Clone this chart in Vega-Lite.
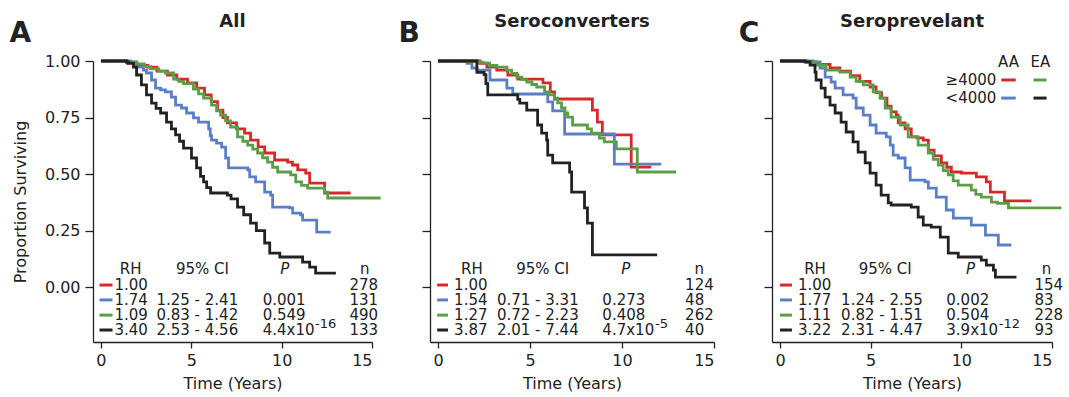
{
"$schema": "https://vega.github.io/schema/vega-lite/v6.json",
"padding": {"left": 9, "top": 13, "right": 2, "bottom": 1},
"bounds": "flush",
"spacing": 58,
"config": {
 "view": {"stroke": null},
 "font": "DejaVu Sans",
 "text": {"font": "DejaVu Sans", "fontSize": 15, "color": "#222222"},
 "title": {"font": "DejaVu Sans", "fontSize": 18, "fontWeight": "bold", "color": "#222222", "anchor": "middle", "frame": "group", "baseline": "alphabetic", "offset": 33, "dy": 44},
 "axis": {"labelFont": "DejaVu Sans", "titleFont": "DejaVu Sans", "labelFontSize": 16, "titleFontSize": 16, "titleFontWeight": "normal", "labelColor": "#222222", "titleColor": "#222222", "domainColor": "#222222", "tickColor": "#222222", "grid": false, "tickSize": 6, "domainWidth": 1.3, "tickWidth": 1.3, "labelPadding": 4},
 "axisY": {"tickSize": 8, "labelPadding": 5}
},
"datasets": {
"km": [
{"p":"A","g":"AA_hi","x":0,"y":1},{"p":"A","g":"AA_hi","x":1.47,"y":0.99},{"p":"A","g":"AA_hi","x":2.0,"y":0.98},{"p":"A","g":"AA_hi","x":2.58,"y":0.973},{"p":"A","g":"AA_hi","x":3.1,"y":0.955},{"p":"A","g":"AA_hi","x":3.68,"y":0.938},{"p":"A","g":"AA_hi","x":4.2,"y":0.92},{"p":"A","g":"AA_hi","x":4.79,"y":0.903},{"p":"A","g":"AA_hi","x":5.3,"y":0.88},{"p":"A","g":"AA_hi","x":5.73,"y":0.85},{"p":"A","g":"AA_hi","x":6.1,"y":0.82},{"p":"A","g":"AA_hi","x":6.45,"y":0.783},{"p":"A","g":"AA_hi","x":6.75,"y":0.75},{"p":"A","g":"AA_hi","x":7.0,"y":0.726},{"p":"A","g":"AA_hi","x":7.5,"y":0.7},{"p":"A","g":"AA_hi","x":7.95,"y":0.681},{"p":"A","g":"AA_hi","x":8.28,"y":0.65},{"p":"A","g":"AA_hi","x":8.7,"y":0.62},{"p":"A","g":"AA_hi","x":9.06,"y":0.593},{"p":"A","g":"AA_hi","x":9.61,"y":0.562},{"p":"A","g":"AA_hi","x":10.33,"y":0.553},{"p":"A","g":"AA_hi","x":10.6,"y":0.54},{"p":"A","g":"AA_hi","x":10.89,"y":0.518},{"p":"A","g":"AA_hi","x":11.33,"y":0.504},{"p":"A","g":"AA_hi","x":11.55,"y":0.46},{"p":"A","g":"AA_hi","x":12.38,"y":0.416},{"p":"A","g":"AA_hi","x":13.82,"y":0.416},
{"p":"A","g":"AA_lo","x":0,"y":1},{"p":"A","g":"AA_lo","x":1.63,"y":0.996},{"p":"A","g":"AA_lo","x":1.97,"y":0.973},{"p":"A","g":"AA_lo","x":2.35,"y":0.96},{"p":"A","g":"AA_lo","x":2.52,"y":0.947},{"p":"A","g":"AA_lo","x":2.8,"y":0.916},{"p":"A","g":"AA_lo","x":3.02,"y":0.88},{"p":"A","g":"AA_lo","x":3.3,"y":0.872},{"p":"A","g":"AA_lo","x":3.57,"y":0.863},{"p":"A","g":"AA_lo","x":3.9,"y":0.84},{"p":"A","g":"AA_lo","x":4.13,"y":0.805},{"p":"A","g":"AA_lo","x":4.46,"y":0.792},{"p":"A","g":"AA_lo","x":4.74,"y":0.77},{"p":"A","g":"AA_lo","x":5.12,"y":0.748},{"p":"A","g":"AA_lo","x":5.4,"y":0.73},{"p":"A","g":"AA_lo","x":5.96,"y":0.7},{"p":"A","g":"AA_lo","x":6.05,"y":0.67},{"p":"A","g":"AA_lo","x":6.12,"y":0.65},{"p":"A","g":"AA_lo","x":6.4,"y":0.637},{"p":"A","g":"AA_lo","x":6.68,"y":0.619},{"p":"A","g":"AA_lo","x":6.9,"y":0.571},{"p":"A","g":"AA_lo","x":7.06,"y":0.527},{"p":"A","g":"AA_lo","x":8.12,"y":0.518},{"p":"A","g":"AA_lo","x":8.23,"y":0.487},{"p":"A","g":"AA_lo","x":8.56,"y":0.465},{"p":"A","g":"AA_lo","x":9.06,"y":0.42},{"p":"A","g":"AA_lo","x":9.39,"y":0.407},{"p":"A","g":"AA_lo","x":9.5,"y":0.354},{"p":"A","g":"AA_lo","x":10.44,"y":0.35},{"p":"A","g":"AA_lo","x":10.61,"y":0.327},{"p":"A","g":"AA_lo","x":11.05,"y":0.319},{"p":"A","g":"AA_lo","x":11.16,"y":0.296},{"p":"A","g":"AA_lo","x":11.94,"y":0.243},{"p":"A","g":"AA_lo","x":12.71,"y":0.243},
{"p":"A","g":"EA_hi","x":0,"y":1},{"p":"A","g":"EA_hi","x":1.42,"y":0.995},{"p":"A","g":"EA_hi","x":1.97,"y":0.987},{"p":"A","g":"EA_hi","x":2.4,"y":0.975},{"p":"A","g":"EA_hi","x":2.74,"y":0.965},{"p":"A","g":"EA_hi","x":3.2,"y":0.955},{"p":"A","g":"EA_hi","x":3.57,"y":0.947},{"p":"A","g":"EA_hi","x":4.02,"y":0.92},{"p":"A","g":"EA_hi","x":4.3,"y":0.91},{"p":"A","g":"EA_hi","x":4.57,"y":0.9},{"p":"A","g":"EA_hi","x":5.12,"y":0.876},{"p":"A","g":"EA_hi","x":5.4,"y":0.855},{"p":"A","g":"EA_hi","x":5.68,"y":0.836},{"p":"A","g":"EA_hi","x":6.12,"y":0.805},{"p":"A","g":"EA_hi","x":6.4,"y":0.78},{"p":"A","g":"EA_hi","x":6.62,"y":0.761},{"p":"A","g":"EA_hi","x":6.9,"y":0.735},{"p":"A","g":"EA_hi","x":7.17,"y":0.708},{"p":"A","g":"EA_hi","x":7.56,"y":0.664},{"p":"A","g":"EA_hi","x":7.85,"y":0.645},{"p":"A","g":"EA_hi","x":8.12,"y":0.628},{"p":"A","g":"EA_hi","x":8.4,"y":0.61},{"p":"A","g":"EA_hi","x":8.67,"y":0.593},{"p":"A","g":"EA_hi","x":8.95,"y":0.572},{"p":"A","g":"EA_hi","x":9.22,"y":0.553},{"p":"A","g":"EA_hi","x":9.5,"y":0.53},{"p":"A","g":"EA_hi","x":9.78,"y":0.509},{"p":"A","g":"EA_hi","x":10.5,"y":0.496},{"p":"A","g":"EA_hi","x":10.78,"y":0.465},{"p":"A","g":"EA_hi","x":11.1,"y":0.45},{"p":"A","g":"EA_hi","x":11.44,"y":0.438},{"p":"A","g":"EA_hi","x":12.38,"y":0.42},{"p":"A","g":"EA_hi","x":12.55,"y":0.394},{"p":"A","g":"EA_hi","x":15.48,"y":0.394},
{"p":"A","g":"EA_lo","x":0,"y":1},{"p":"A","g":"EA_lo","x":1.41,"y":0.995},{"p":"A","g":"EA_lo","x":1.52,"y":0.991},{"p":"A","g":"EA_lo","x":1.8,"y":0.973},{"p":"A","g":"EA_lo","x":1.97,"y":0.938},{"p":"A","g":"EA_lo","x":2.24,"y":0.894},{"p":"A","g":"EA_lo","x":2.52,"y":0.85},{"p":"A","g":"EA_lo","x":2.8,"y":0.814},{"p":"A","g":"EA_lo","x":3.05,"y":0.79},{"p":"A","g":"EA_lo","x":3.3,"y":0.77},{"p":"A","g":"EA_lo","x":3.63,"y":0.73},{"p":"A","g":"EA_lo","x":3.9,"y":0.7},{"p":"A","g":"EA_lo","x":4.13,"y":0.673},{"p":"A","g":"EA_lo","x":4.35,"y":0.645},{"p":"A","g":"EA_lo","x":4.57,"y":0.615},{"p":"A","g":"EA_lo","x":5.01,"y":0.571},{"p":"A","g":"EA_lo","x":5.29,"y":0.527},{"p":"A","g":"EA_lo","x":5.51,"y":0.49},{"p":"A","g":"EA_lo","x":5.68,"y":0.465},{"p":"A","g":"EA_lo","x":5.85,"y":0.44},{"p":"A","g":"EA_lo","x":6.07,"y":0.416},{"p":"A","g":"EA_lo","x":7.0,"y":0.407},{"p":"A","g":"EA_lo","x":7.2,"y":0.39},{"p":"A","g":"EA_lo","x":7.56,"y":0.354},{"p":"A","g":"EA_lo","x":7.9,"y":0.32},{"p":"A","g":"EA_lo","x":8.28,"y":0.283},{"p":"A","g":"EA_lo","x":8.6,"y":0.25},{"p":"A","g":"EA_lo","x":9.06,"y":0.195},{"p":"A","g":"EA_lo","x":9.34,"y":0.15},{"p":"A","g":"EA_lo","x":9.9,"y":0.133},{"p":"A","g":"EA_lo","x":11.16,"y":0.11},{"p":"A","g":"EA_lo","x":11.55,"y":0.088},{"p":"A","g":"EA_lo","x":11.88,"y":0.062},{"p":"A","g":"EA_lo","x":13.0,"y":0.062},
{"p":"B","g":"AA_hi","x":0,"y":1},{"p":"B","g":"AA_hi","x":2.27,"y":0.99},{"p":"B","g":"AA_hi","x":2.65,"y":0.973},{"p":"B","g":"AA_hi","x":3.19,"y":0.96},{"p":"B","g":"AA_hi","x":3.79,"y":0.938},{"p":"B","g":"AA_hi","x":4.33,"y":0.92},{"p":"B","g":"AA_hi","x":5.7,"y":0.903},{"p":"B","g":"AA_hi","x":6.1,"y":0.863},{"p":"B","g":"AA_hi","x":6.33,"y":0.832},{"p":"B","g":"AA_hi","x":8.39,"y":0.783},{"p":"B","g":"AA_hi","x":8.66,"y":0.73},{"p":"B","g":"AA_hi","x":8.93,"y":0.673},{"p":"B","g":"AA_hi","x":10.5,"y":0.531},{"p":"B","g":"AA_hi","x":11.59,"y":0.531},
{"p":"B","g":"AA_lo","x":0,"y":1},{"p":"B","g":"AA_lo","x":1.57,"y":0.99},{"p":"B","g":"AA_lo","x":1.84,"y":0.969},{"p":"B","g":"AA_lo","x":2.11,"y":0.96},{"p":"B","g":"AA_lo","x":2.82,"y":0.916},{"p":"B","g":"AA_lo","x":3.74,"y":0.88},{"p":"B","g":"AA_lo","x":4.06,"y":0.854},{"p":"B","g":"AA_lo","x":5.96,"y":0.819},{"p":"B","g":"AA_lo","x":6.23,"y":0.779},{"p":"B","g":"AA_lo","x":6.88,"y":0.677},{"p":"B","g":"AA_lo","x":9.58,"y":0.544},{"p":"B","g":"AA_lo","x":12.13,"y":0.544},
{"p":"B","g":"EA_hi","x":0,"y":1},{"p":"B","g":"EA_hi","x":2.11,"y":0.995},{"p":"B","g":"EA_hi","x":2.44,"y":0.991},{"p":"B","g":"EA_hi","x":2.8,"y":0.98},{"p":"B","g":"EA_hi","x":3.19,"y":0.973},{"p":"B","g":"EA_hi","x":3.74,"y":0.96},{"p":"B","g":"EA_hi","x":4.0,"y":0.945},{"p":"B","g":"EA_hi","x":4.28,"y":0.929},{"p":"B","g":"EA_hi","x":4.55,"y":0.918},{"p":"B","g":"EA_hi","x":4.82,"y":0.907},{"p":"B","g":"EA_hi","x":5.1,"y":0.896},{"p":"B","g":"EA_hi","x":5.36,"y":0.885},{"p":"B","g":"EA_hi","x":5.79,"y":0.863},{"p":"B","g":"EA_hi","x":6.05,"y":0.85},{"p":"B","g":"EA_hi","x":6.33,"y":0.836},{"p":"B","g":"EA_hi","x":6.5,"y":0.815},{"p":"B","g":"EA_hi","x":6.71,"y":0.792},{"p":"B","g":"EA_hi","x":6.9,"y":0.77},{"p":"B","g":"EA_hi","x":7.04,"y":0.752},{"p":"B","g":"EA_hi","x":7.31,"y":0.717},{"p":"B","g":"EA_hi","x":8.12,"y":0.7},{"p":"B","g":"EA_hi","x":8.34,"y":0.681},{"p":"B","g":"EA_hi","x":8.77,"y":0.659},{"p":"B","g":"EA_hi","x":9.04,"y":0.642},{"p":"B","g":"EA_hi","x":9.69,"y":0.611},{"p":"B","g":"EA_hi","x":10.83,"y":0.509},{"p":"B","g":"EA_hi","x":12.94,"y":0.509},
{"p":"B","g":"EA_lo","x":0,"y":1},{"p":"B","g":"EA_lo","x":2.11,"y":0.95},{"p":"B","g":"EA_lo","x":2.5,"y":0.94},{"p":"B","g":"EA_lo","x":2.6,"y":0.9},{"p":"B","g":"EA_lo","x":2.7,"y":0.85},{"p":"B","g":"EA_lo","x":4.33,"y":0.83},{"p":"B","g":"EA_lo","x":4.44,"y":0.814},{"p":"B","g":"EA_lo","x":4.82,"y":0.783},{"p":"B","g":"EA_lo","x":5.41,"y":0.717},{"p":"B","g":"EA_lo","x":5.63,"y":0.681},{"p":"B","g":"EA_lo","x":5.9,"y":0.65},{"p":"B","g":"EA_lo","x":5.96,"y":0.584},{"p":"B","g":"EA_lo","x":6.23,"y":0.549},{"p":"B","g":"EA_lo","x":7.15,"y":0.509},{"p":"B","g":"EA_lo","x":7.26,"y":0.42},{"p":"B","g":"EA_lo","x":7.96,"y":0.35},{"p":"B","g":"EA_lo","x":8.12,"y":0.283},{"p":"B","g":"EA_lo","x":8.39,"y":0.142},{"p":"B","g":"EA_lo","x":11.91,"y":0.142},
{"p":"C","g":"AA_hi","x":0,"y":1},{"p":"C","g":"AA_hi","x":1.44,"y":0.995},{"p":"C","g":"AA_hi","x":2.0,"y":0.985},{"p":"C","g":"AA_hi","x":2.76,"y":0.969},{"p":"C","g":"AA_hi","x":3.3,"y":0.955},{"p":"C","g":"AA_hi","x":3.9,"y":0.935},{"p":"C","g":"AA_hi","x":4.4,"y":0.91},{"p":"C","g":"AA_hi","x":4.97,"y":0.885},{"p":"C","g":"AA_hi","x":5.3,"y":0.86},{"p":"C","g":"AA_hi","x":5.6,"y":0.836},{"p":"C","g":"AA_hi","x":5.9,"y":0.8},{"p":"C","g":"AA_hi","x":6.13,"y":0.775},{"p":"C","g":"AA_hi","x":6.41,"y":0.761},{"p":"C","g":"AA_hi","x":6.52,"y":0.726},{"p":"C","g":"AA_hi","x":6.9,"y":0.7},{"p":"C","g":"AA_hi","x":7.24,"y":0.664},{"p":"C","g":"AA_hi","x":7.55,"y":0.66},{"p":"C","g":"AA_hi","x":7.9,"y":0.65},{"p":"C","g":"AA_hi","x":8.18,"y":0.606},{"p":"C","g":"AA_hi","x":8.5,"y":0.58},{"p":"C","g":"AA_hi","x":8.9,"y":0.549},{"p":"C","g":"AA_hi","x":9.2,"y":0.53},{"p":"C","g":"AA_hi","x":9.45,"y":0.509},{"p":"C","g":"AA_hi","x":10.0,"y":0.504},{"p":"C","g":"AA_hi","x":10.83,"y":0.487},{"p":"C","g":"AA_hi","x":11.38,"y":0.465},{"p":"C","g":"AA_hi","x":11.6,"y":0.42},{"p":"C","g":"AA_hi","x":12.38,"y":0.381},{"p":"C","g":"AA_hi","x":13.87,"y":0.381},
{"p":"C","g":"AA_lo","x":0,"y":1},{"p":"C","g":"AA_lo","x":1.82,"y":0.996},{"p":"C","g":"AA_lo","x":2.21,"y":0.969},{"p":"C","g":"AA_lo","x":2.49,"y":0.929},{"p":"C","g":"AA_lo","x":2.82,"y":0.907},{"p":"C","g":"AA_lo","x":3.04,"y":0.88},{"p":"C","g":"AA_lo","x":3.48,"y":0.85},{"p":"C","g":"AA_lo","x":4.03,"y":0.836},{"p":"C","g":"AA_lo","x":4.2,"y":0.792},{"p":"C","g":"AA_lo","x":4.59,"y":0.761},{"p":"C","g":"AA_lo","x":4.97,"y":0.717},{"p":"C","g":"AA_lo","x":5.3,"y":0.681},{"p":"C","g":"AA_lo","x":5.86,"y":0.664},{"p":"C","g":"AA_lo","x":6.08,"y":0.628},{"p":"C","g":"AA_lo","x":6.24,"y":0.584},{"p":"C","g":"AA_lo","x":6.52,"y":0.571},{"p":"C","g":"AA_lo","x":6.9,"y":0.527},{"p":"C","g":"AA_lo","x":7.18,"y":0.473},{"p":"C","g":"AA_lo","x":8.0,"y":0.465},{"p":"C","g":"AA_lo","x":8.18,"y":0.438},{"p":"C","g":"AA_lo","x":8.62,"y":0.398},{"p":"C","g":"AA_lo","x":9.17,"y":0.341},{"p":"C","g":"AA_lo","x":9.56,"y":0.305},{"p":"C","g":"AA_lo","x":10.55,"y":0.274},{"p":"C","g":"AA_lo","x":11.33,"y":0.23},{"p":"C","g":"AA_lo","x":12.04,"y":0.186},{"p":"C","g":"AA_lo","x":12.76,"y":0.186},
{"p":"C","g":"EA_hi","x":0,"y":1},{"p":"C","g":"EA_hi","x":1.44,"y":0.995},{"p":"C","g":"EA_hi","x":1.99,"y":0.982},{"p":"C","g":"EA_hi","x":2.54,"y":0.96},{"p":"C","g":"EA_hi","x":3.31,"y":0.951},{"p":"C","g":"EA_hi","x":3.87,"y":0.929},{"p":"C","g":"EA_hi","x":4.2,"y":0.91},{"p":"C","g":"EA_hi","x":4.59,"y":0.894},{"p":"C","g":"EA_hi","x":5.14,"y":0.863},{"p":"C","g":"EA_hi","x":5.52,"y":0.836},{"p":"C","g":"EA_hi","x":5.8,"y":0.792},{"p":"C","g":"EA_hi","x":6.13,"y":0.752},{"p":"C","g":"EA_hi","x":6.63,"y":0.717},{"p":"C","g":"EA_hi","x":7.07,"y":0.664},{"p":"C","g":"EA_hi","x":7.62,"y":0.628},{"p":"C","g":"EA_hi","x":8.18,"y":0.593},{"p":"C","g":"EA_hi","x":8.45,"y":0.565},{"p":"C","g":"EA_hi","x":8.73,"y":0.54},{"p":"C","g":"EA_hi","x":9.0,"y":0.515},{"p":"C","g":"EA_hi","x":9.28,"y":0.496},{"p":"C","g":"EA_hi","x":9.55,"y":0.47},{"p":"C","g":"EA_hi","x":9.83,"y":0.451},{"p":"C","g":"EA_hi","x":10.55,"y":0.429},{"p":"C","g":"EA_hi","x":10.8,"y":0.41},{"p":"C","g":"EA_hi","x":11.1,"y":0.398},{"p":"C","g":"EA_hi","x":11.66,"y":0.376},{"p":"C","g":"EA_hi","x":12.0,"y":0.37},{"p":"C","g":"EA_hi","x":12.6,"y":0.35},{"p":"C","g":"EA_hi","x":15.52,"y":0.35},
{"p":"C","g":"EA_lo","x":0,"y":1},{"p":"C","g":"EA_lo","x":1.38,"y":0.996},{"p":"C","g":"EA_lo","x":1.66,"y":0.982},{"p":"C","g":"EA_lo","x":1.93,"y":0.951},{"p":"C","g":"EA_lo","x":1.99,"y":0.916},{"p":"C","g":"EA_lo","x":2.27,"y":0.88},{"p":"C","g":"EA_lo","x":2.49,"y":0.84},{"p":"C","g":"EA_lo","x":2.76,"y":0.805},{"p":"C","g":"EA_lo","x":3.04,"y":0.77},{"p":"C","g":"EA_lo","x":3.37,"y":0.73},{"p":"C","g":"EA_lo","x":3.65,"y":0.686},{"p":"C","g":"EA_lo","x":4.03,"y":0.642},{"p":"C","g":"EA_lo","x":4.31,"y":0.597},{"p":"C","g":"EA_lo","x":4.7,"y":0.549},{"p":"C","g":"EA_lo","x":4.97,"y":0.504},{"p":"C","g":"EA_lo","x":5.3,"y":0.451},{"p":"C","g":"EA_lo","x":5.58,"y":0.407},{"p":"C","g":"EA_lo","x":5.97,"y":0.372},{"p":"C","g":"EA_lo","x":6.13,"y":0.363},{"p":"C","g":"EA_lo","x":7.24,"y":0.354},{"p":"C","g":"EA_lo","x":7.62,"y":0.31},{"p":"C","g":"EA_lo","x":7.9,"y":0.274},{"p":"C","g":"EA_lo","x":8.34,"y":0.265},{"p":"C","g":"EA_lo","x":8.84,"y":0.221},{"p":"C","g":"EA_lo","x":9.28,"y":0.15},{"p":"C","g":"EA_lo","x":9.83,"y":0.133},{"p":"C","g":"EA_lo","x":11.1,"y":0.119},{"p":"C","g":"EA_lo","x":11.38,"y":0.097},{"p":"C","g":"EA_lo","x":11.77,"y":0.075},{"p":"C","g":"EA_lo","x":11.88,"y":0.044},{"p":"C","g":"EA_lo","x":13.04,"y":0.044}
],
"seg": [
{"p":"A","g":"AA_hi","x":-0.08,"x2":0.64,"y":0.009},{"p":"A","g":"AA_lo","x":-0.08,"x2":0.64,"y":-0.057},{"p":"A","g":"EA_hi","x":-0.08,"x2":0.64,"y":-0.124},{"p":"A","g":"EA_lo","x":-0.08,"x2":0.64,"y":-0.19},
{"p":"B","g":"AA_hi","x":-0.05,"x2":0.54,"y":0.009},{"p":"B","g":"AA_lo","x":-0.05,"x2":0.54,"y":-0.057},{"p":"B","g":"EA_hi","x":-0.05,"x2":0.54,"y":-0.124},{"p":"B","g":"EA_lo","x":-0.05,"x2":0.54,"y":-0.19},
{"p":"C","g":"AA_hi","x":0,"x2":0.66,"y":0.009},{"p":"C","g":"AA_lo","x":0,"x2":0.66,"y":-0.057},{"p":"C","g":"EA_hi","x":0,"x2":0.66,"y":-0.124},{"p":"C","g":"EA_lo","x":0,"x2":0.66,"y":-0.19},
{"p":"C","g":"AA_hi","x":12.2,"x2":13.0,"y":0.916},{"p":"C","g":"EA_hi","x":13.98,"x2":14.7,"y":0.916},{"p":"C","g":"AA_lo","x":12.2,"x2":13.0,"y":0.836},{"p":"C","g":"EA_lo","x":13.98,"x2":14.7,"y":0.836}
],
"tab": [
{"p":"A","a":"L","x":-4.46,"y":1.118,"t":"A"},
{"p":"A","a":"c","x":1.64,"y":0.08,"t":"RH"},{"p":"A","a":"c","x":5.62,"y":0.08,"t":"95% CI"},{"p":"A","a":"i","x":10.17,"y":0.08,"t":"P"},{"p":"A","a":"c","x":14.6,"y":0.08,"t":"n"},
{"p":"A","a":"l","x":0.75,"y":0.009,"t":"1.00"},{"p":"A","a":"l","x":0.75,"y":-0.057,"t":"1.74"},{"p":"A","a":"l","x":0.75,"y":-0.124,"t":"1.09"},{"p":"A","a":"l","x":0.75,"y":-0.19,"t":"3.40"},
{"p":"A","a":"l","x":3.07,"y":-0.057,"t":"1.25 - 2.41"},{"p":"A","a":"l","x":3.07,"y":-0.124,"t":"0.83 - 1.42"},{"p":"A","a":"l","x":3.07,"y":-0.19,"t":"2.53 - 4.56"},
{"p":"A","a":"l","x":8.95,"y":-0.057,"t":"0.001"},{"p":"A","a":"l","x":8.95,"y":-0.124,"t":"0.549"},{"p":"A","a":"l","x":8.95,"y":-0.19,"t":"4.4x10"},{"p":"A","a":"s","x":11.85,"y":-0.163,"t":"-16"},
{"p":"A","a":"l","x":13.75,"y":0.009,"t":"278"},{"p":"A","a":"l","x":13.75,"y":-0.057,"t":"131"},{"p":"A","a":"l","x":13.75,"y":-0.124,"t":"490"},{"p":"A","a":"l","x":13.75,"y":-0.19,"t":"133"},
{"p":"B","a":"L","x":-1.57,"y":1.118,"t":"B"},
{"p":"B","a":"c","x":1.84,"y":0.08,"t":"RH"},{"p":"B","a":"c","x":5.69,"y":0.08,"t":"95% CI"},{"p":"B","a":"i","x":10.2,"y":0.08,"t":"P"},{"p":"B","a":"c","x":14.2,"y":0.08,"t":"n"},
{"p":"B","a":"l","x":0.87,"y":0.009,"t":"1.00"},{"p":"B","a":"l","x":0.87,"y":-0.057,"t":"1.54"},{"p":"B","a":"l","x":0.87,"y":-0.124,"t":"1.27"},{"p":"B","a":"l","x":0.87,"y":-0.19,"t":"3.87"},
{"p":"B","a":"l","x":3.2,"y":-0.057,"t":"0.71 - 3.31"},{"p":"B","a":"l","x":3.2,"y":-0.124,"t":"0.72 - 2.23"},{"p":"B","a":"l","x":3.2,"y":-0.19,"t":"2.01 - 7.44"},
{"p":"B","a":"l","x":8.93,"y":-0.057,"t":"0.273"},{"p":"B","a":"l","x":8.93,"y":-0.124,"t":"0.408"},{"p":"B","a":"l","x":8.93,"y":-0.19,"t":"4.7x10"},{"p":"B","a":"s","x":11.8,"y":-0.163,"t":"-5"},
{"p":"B","a":"l","x":13.43,"y":0.009,"t":"124"},{"p":"B","a":"l","x":13.43,"y":-0.057,"t":"48"},{"p":"B","a":"l","x":13.43,"y":-0.124,"t":"262"},{"p":"B","a":"l","x":13.43,"y":-0.19,"t":"40"},
{"p":"C","a":"L","x":-1.71,"y":1.118,"t":"C"},
{"p":"C","a":"c","x":1.93,"y":0.08,"t":"RH"},{"p":"C","a":"c","x":5.8,"y":0.08,"t":"95% CI"},{"p":"C","a":"i","x":10.5,"y":0.08,"t":"P"},{"p":"C","a":"c","x":14.7,"y":0.08,"t":"n"},
{"p":"C","a":"l","x":0.99,"y":0.009,"t":"1.00"},{"p":"C","a":"l","x":0.99,"y":-0.057,"t":"1.77"},{"p":"C","a":"l","x":0.99,"y":-0.124,"t":"1.11"},{"p":"C","a":"l","x":0.99,"y":-0.19,"t":"3.22"},
{"p":"C","a":"l","x":3.37,"y":-0.057,"t":"1.24 - 2.55"},{"p":"C","a":"l","x":3.37,"y":-0.124,"t":"0.82 - 1.51"},{"p":"C","a":"l","x":3.37,"y":-0.19,"t":"2.31 - 4.47"},
{"p":"C","a":"l","x":9.17,"y":-0.057,"t":"0.002"},{"p":"C","a":"l","x":9.17,"y":-0.124,"t":"0.504"},{"p":"C","a":"l","x":9.17,"y":-0.19,"t":"3.9x10"},{"p":"C","a":"s","x":12.07,"y":-0.163,"t":"-12"},
{"p":"C","a":"l","x":14.03,"y":0.009,"t":"154"},{"p":"C","a":"l","x":14.03,"y":-0.057,"t":"83"},{"p":"C","a":"l","x":14.03,"y":-0.124,"t":"228"},{"p":"C","a":"l","x":14.03,"y":-0.19,"t":"93"},
{"p":"C","a":"c","x":12.6,"y":0.996,"t":"AA"},{"p":"C","a":"c","x":14.36,"y":0.996,"t":"EA"},{"p":"C","a":"r","x":11.93,"y":0.916,"t":"≥4000"},{"p":"C","a":"r","x":11.93,"y":0.836,"t":"<4000"}
]
},
"hconcat": [
{
 "width": 279, "height": 281,
 "title": "All",
 "encoding": {
  "x": {"field": "x", "type": "quantitative", "scale": {"domain": [-0.44, 15], "nice": false, "zero": false}, "axis": {"values": [0, 5, 10, 15], "title": "Time (Years)", "titlePadding": 7}},
  "y": {"field": "y", "type": "quantitative", "scale": {"domain": [-0.243, 1], "nice": false, "zero": false}, "axis": {"values": [0, 0.25, 0.5, 0.75, 1], "format": ".2f", "title": "Proportion Surviving", "titlePadding": 16}}
 },
 "layer": [
  {"data": {"name": "km"}, "transform": [{"filter": "datum.p === 'A'"}], "mark": {"type": "line", "interpolate": "step-after", "strokeWidth": 2.8},
   "encoding": {"color": {"field": "g", "type": "nominal", "scale": {"domain": ["AA_hi", "AA_lo", "EA_hi", "EA_lo"], "range": ["#d62a2a", "#5a7fc6", "#5a9e48", "#222222"]}, "legend": null}}},
  {"data": {"name": "seg"}, "transform": [{"filter": "datum.p === 'A'"}], "mark": {"type": "rule", "strokeWidth": 3},
   "encoding": {"x2": {"field": "x2"}, "color": {"field": "g", "type": "nominal", "legend": null}}},
  {"data": {"name": "tab"}, "transform": [{"filter": "datum.p === 'A' && datum.a === 'l'"}], "mark": {"type": "text", "align": "left", "baseline": "middle"}, "encoding": {"text": {"field": "t"}}},
  {"data": {"name": "tab"}, "transform": [{"filter": "datum.p === 'A' && datum.a === 's'"}], "mark": {"type": "text", "align": "left", "baseline": "middle", "fontSize": 13}, "encoding": {"text": {"field": "t"}}},
  {"data": {"name": "tab"}, "transform": [{"filter": "datum.p === 'A' && datum.a === 'c'"}], "mark": {"type": "text", "align": "center", "baseline": "middle"}, "encoding": {"text": {"field": "t"}}},
  {"data": {"name": "tab"}, "transform": [{"filter": "datum.p === 'A' && datum.a === 'i'"}], "mark": {"type": "text", "align": "center", "baseline": "middle", "fontStyle": "italic"}, "encoding": {"text": {"field": "t"}}},
  {"data": {"name": "tab"}, "transform": [{"filter": "datum.p === 'A' && datum.a === 'L'"}], "mark": {"type": "text", "align": "center", "baseline": "middle", "fontSize": 28, "fontWeight": "bold"}, "encoding": {"text": {"field": "t"}}}
 ]
},
{
 "width": 284, "height": 281,
 "title": "Seroconverters",
 "encoding": {
  "x": {"field": "x", "type": "quantitative", "scale": {"domain": [-0.44, 15], "nice": false, "zero": false}, "axis": {"values": [0, 5, 10, 15], "title": "Time (Years)", "titlePadding": 7}},
  "y": {"field": "y", "type": "quantitative", "scale": {"domain": [-0.243, 1], "nice": false, "zero": false}, "axis": {"values": [0, 0.25, 0.5, 0.75, 1], "labels": false, "title": null}}
 },
 "layer": [
  {"data": {"name": "km"}, "transform": [{"filter": "datum.p === 'B'"}], "mark": {"type": "line", "interpolate": "step-after", "strokeWidth": 2.8},
   "encoding": {"color": {"field": "g", "type": "nominal", "legend": null}}},
  {"data": {"name": "seg"}, "transform": [{"filter": "datum.p === 'B'"}], "mark": {"type": "rule", "strokeWidth": 3},
   "encoding": {"x2": {"field": "x2"}, "color": {"field": "g", "type": "nominal", "legend": null}}},
  {"data": {"name": "tab"}, "transform": [{"filter": "datum.p === 'B' && datum.a === 'l'"}], "mark": {"type": "text", "align": "left", "baseline": "middle"}, "encoding": {"text": {"field": "t"}}},
  {"data": {"name": "tab"}, "transform": [{"filter": "datum.p === 'B' && datum.a === 's'"}], "mark": {"type": "text", "align": "left", "baseline": "middle", "fontSize": 13}, "encoding": {"text": {"field": "t"}}},
  {"data": {"name": "tab"}, "transform": [{"filter": "datum.p === 'B' && datum.a === 'c'"}], "mark": {"type": "text", "align": "center", "baseline": "middle"}, "encoding": {"text": {"field": "t"}}},
  {"data": {"name": "tab"}, "transform": [{"filter": "datum.p === 'B' && datum.a === 'i'"}], "mark": {"type": "text", "align": "center", "baseline": "middle", "fontStyle": "italic"}, "encoding": {"text": {"field": "t"}}},
  {"data": {"name": "tab"}, "transform": [{"filter": "datum.p === 'B' && datum.a === 'L'"}], "mark": {"type": "text", "align": "center", "baseline": "middle", "fontSize": 28, "fontWeight": "bold"}, "encoding": {"text": {"field": "t"}}}
 ]
},
{
 "width": 280, "height": 281,
 "title": "Seroprevelant",
 "encoding": {
  "x": {"field": "x", "type": "quantitative", "scale": {"domain": [-0.44, 15], "nice": false, "zero": false}, "axis": {"values": [0, 5, 10, 15], "title": "Time (Years)", "titlePadding": 7}},
  "y": {"field": "y", "type": "quantitative", "scale": {"domain": [-0.243, 1], "nice": false, "zero": false}, "axis": {"values": [0, 0.25, 0.5, 0.75, 1], "labels": false, "title": null}}
 },
 "layer": [
  {"data": {"name": "km"}, "transform": [{"filter": "datum.p === 'C'"}], "mark": {"type": "line", "interpolate": "step-after", "strokeWidth": 2.8},
   "encoding": {"color": {"field": "g", "type": "nominal", "legend": null}}},
  {"data": {"name": "seg"}, "transform": [{"filter": "datum.p === 'C'"}], "mark": {"type": "rule", "strokeWidth": 3},
   "encoding": {"x2": {"field": "x2"}, "color": {"field": "g", "type": "nominal", "legend": null}}},
  {"data": {"name": "tab"}, "transform": [{"filter": "datum.p === 'C' && datum.a === 'l'"}], "mark": {"type": "text", "align": "left", "baseline": "middle"}, "encoding": {"text": {"field": "t"}}},
  {"data": {"name": "tab"}, "transform": [{"filter": "datum.p === 'C' && datum.a === 's'"}], "mark": {"type": "text", "align": "left", "baseline": "middle", "fontSize": 13}, "encoding": {"text": {"field": "t"}}},
  {"data": {"name": "tab"}, "transform": [{"filter": "datum.p === 'C' && datum.a === 'c'"}], "mark": {"type": "text", "align": "center", "baseline": "middle"}, "encoding": {"text": {"field": "t"}}},
  {"data": {"name": "tab"}, "transform": [{"filter": "datum.p === 'C' && datum.a === 'r'"}], "mark": {"type": "text", "align": "right", "baseline": "middle"}, "encoding": {"text": {"field": "t"}}},
  {"data": {"name": "tab"}, "transform": [{"filter": "datum.p === 'C' && datum.a === 'i'"}], "mark": {"type": "text", "align": "center", "baseline": "middle", "fontStyle": "italic"}, "encoding": {"text": {"field": "t"}}},
  {"data": {"name": "tab"}, "transform": [{"filter": "datum.p === 'C' && datum.a === 'L'"}], "mark": {"type": "text", "align": "center", "baseline": "middle", "fontSize": 28, "fontWeight": "bold"}, "encoding": {"text": {"field": "t"}}}
 ]
}
]
}
